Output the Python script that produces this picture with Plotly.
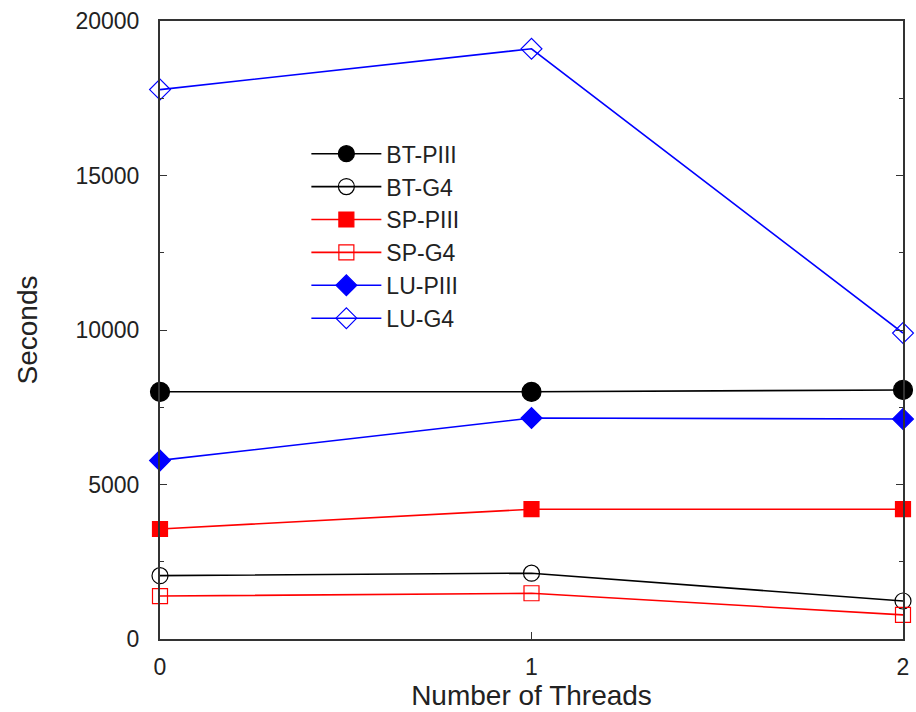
import plotly.graph_objects as go

threads = [0, 1, 2]
bt_piii = [8000, 8000, 8060]
bt_g4 = [2050, 2130, 1230]
sp_piii = [3560, 4200, 4200]
sp_g4 = [1390, 1480, 780]
lu_piii = [5780, 7150, 7120]
lu_g4 = [17780, 19100, 9900]
y_ticks = [0, 5000, 10000, 15000, 20000]
y_tick_labels = ["0", "5000", "10000", "15000", "20000"]

series = [
    ("BT-PIII", bt_piii, "black", "circle", 19),
    ("BT-G4", bt_g4, "black", "circle-open", 16),
    ("SP-PIII", sp_piii, "red", "square", 15),
    ("SP-G4", sp_g4, "red", "square-open", 15),
    ("LU-PIII", lu_piii, "blue", "diamond", 16),
    ("LU-G4", lu_g4, "blue", "diamond-open", 16),
]

FONT = "Liberation Sans, Arial, Helvetica, sans-serif"

fig = go.Figure()
for name, ys, color, sym, size in series:
    fig.add_trace(go.Scatter(
        x=threads, y=ys, name=name, mode="lines+markers",
        line=dict(color=color, width=1.6),
        marker=dict(symbol=sym, size=size, color=color,
                    line=dict(color=color, width=1.2)),
        cliponaxis=False,
    ))

fig.update_layout(
    width=916, height=712,
    margin=dict(l=160, r=7, t=21, b=72),
    paper_bgcolor="white", plot_bgcolor="white",
    font=dict(family=FONT, size=23, color="#222222"),
    showlegend=True,
    legend=dict(x=0.197, y=0.82, xanchor="left", yanchor="top",
                bgcolor="rgba(0,0,0,0)", font=dict(size=23),
                itemwidth=70, tracegroupgap=0),
    xaxis=dict(
        range=[0, 2], tickvals=threads, ticktext=["0", "1", "2"],
        ticks="inside", ticklen=7, tickcolor="#333333",
        showline=True, linecolor="#333333", linewidth=2, mirror=True,
        showgrid=False, zeroline=False,
        title=dict(text="Number of Threads", standoff=6),
        ticklabelstandoff=6,
    ),
    yaxis=dict(
        range=[0, 20000], tickvals=y_ticks, ticktext=y_tick_labels,
        ticks="inside", ticklen=7, tickcolor="#333333",
        minor=dict(ticks="inside", dtick=2500, ticklen=4, tickcolor="#333333"),
        showline=True, linecolor="#333333", linewidth=2, mirror="ticks",
        showgrid=False, zeroline=False,
        title=dict(text="Seconds", standoff=30),
        ticklabelstandoff=14,
    ),
)

fig.write_html("out.html")
